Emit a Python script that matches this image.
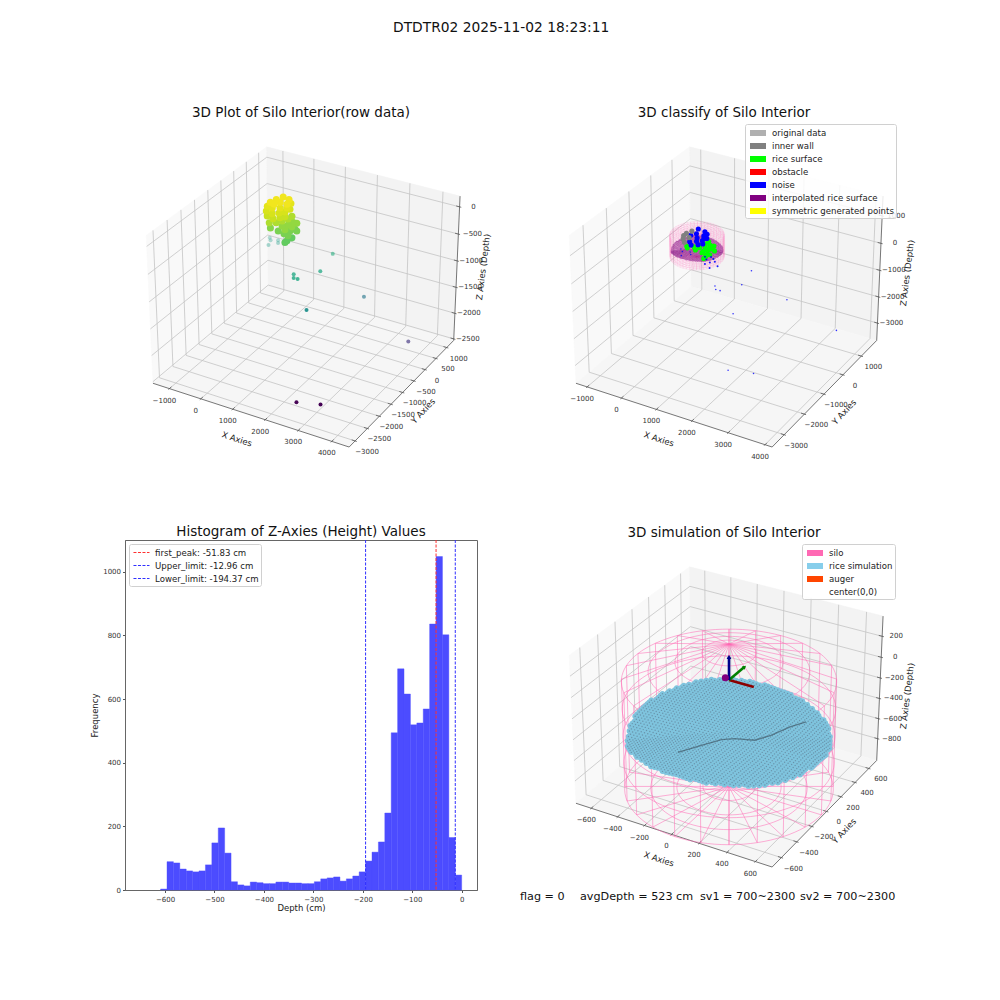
import numpy as np, pandas as pd, altair as alt
alt.data_transformers.disable_max_rows()
FONT = "DejaVu Sans"
SUP = "DTDTR02 2025-11-02 18:23:11"
TITLES = ["3D Plot of Silo Interior(row data)", "3D classify of Silo Interior",
          "Histogram of Z-Axies (Height) Values", "3D simulation of Silo Interior"]

# ---------- measured point cloud (x, y, z in cm) ----------
blob_x = [30,-51,-110,247,120,333,35,-145,24,208,368,327,-106,111,246,356,393,-23,195,330,417,64,225,309,393,406,299,409,445,563,554,473,472,533,558,413,632,524,531,560,4,196]
blob_y = [19,-155,-319,-25,-219,-219,-349,-395,-414,-334,-264,-50,-485,-529,-424,-330,-175,-555,-599,-494,-410,-587,-517,-387,-258,-113,-373,-279,-124,-119,-308,-483,-280,-160,-474,-444,-210,-470,-559,-315,-469,-400]
blob_z = [-50,-50,-50,-50,-50,-50,-50,-100,-100,-100,-100,-100,-150,-150,-150,-150,-150,-200,-200,-200,-200,-300,-300,-300,-300,-300,-400,-400,-400,-400,-400,-400,-500,-500,-500,-500,-500,-600,-600,-600,-450,-500]
blob_c = "bggbbbbggbbbgbbbbgbbblllllllllllllllllllll"
BLOB_LIFT = 250
far_x = [-762,-660,-574,-477,-397,1462,1561,1018,1124,1243,2567,1912,3960,2326,2931]
far_y = [457,363,169,443,339,189,-463,-838,-977,-972,25,-1487,20,-2433,-2262]
far_z = [-1100,-1100,-1100,-1100,-1100,-940,-1000,-1000,-1000,-1000,-1500,-1250,-2100,-2500,-2500]
scat_x = [436,584,570,522,851,720,471,673,333]
scat_y = [-274,-355,-159,-486,-431,-595,-105,-262,-171]
scat_z = [-600]*9

# rice surface heights: rows = radius bands, columns = sectors of 30 degrees
rice_bands = [0, 250, 450, 661]
rice_z = [
 [-530,-530,-530,-530,-530,-530,-530,-530,-530,-530,-530,-530],
 [-535,-550,-545,-530,-515,-520,-530,-550,-530,-515,-525,-540],
 [-545,-580,-560,-535,-500,-510,-535,-580,-530,-500,-520,-550],
 [-550,-600,-570,-540,-490,-505,-540,-600,-530,-490,-520,-560],
]
ridge_x = [-131,-46,28,94,214,274,329,388]
ridge_y = [-416,-269,-144,-92,-46,60,215,322]
ridge_z = [-495]*8

# silo
SILO_R = 680
SILO4 = dict(top=-19, apex=310, bot=-1070)
SILO2 = dict(top=0, apex=0, bot=-820)

# histogram
hist_width = 12.9575
hist_counts = [3,89,85,66,60,57,60,79,148,195,116,26,16,13,25,23,20,20,25,25,22,22,20,20,26,35,38,41,28,35,44,57,91,119,151,242,494,695,616,519,525,569,836,1048,802,165,47]
lines_name = ["first_peak: -51.83 cm", "Upper_limit: -12.96 cm", "Lower_limit: -194.37 cm"]
lines_val = [-51.83, -12.96, -194.37]
lines_col = ["#ff3030", "#3030ff", "#3030ff"]

leg2_names = ["original data","inner wall","rice surface","obstacle","noise","interpolated rice surface","symmetric generated points"]
leg2_cols = ["#b0b0b0","#808080","#00ff00","#ff0000","#0000ff","#800080","#ffff00"]
leg4_names = ["silo","rice simulation","auger","center(0,0)"]
leg4_cols = ["#ff69b4","#87ceeb","#ff4500","#ffffff"]

PANES = {
 1: dict(x=(-1530,4510), y=(-3240,1330), z=(-2530,195),
         xt=[-1000,0,1000,2000,3000,4000], yt=list(range(-3000,1001,500)), zt=list(range(-2500,1,500))),
 2: dict(x=(-1330,4190), y=(-3580,1860), z=(-3670,1710),
         xt=[-1000,0,1000,2000,3000,4000], yt=[-3000,-2000,-1000,0,1000], zt=[-3000,-2000,-1000,0,1000]),
 4: dict(x=(-717,717), y=(-717,717), z=(-1020,390),
         xt=list(range(-600,601,200)), yt=list(range(-600,601,200)), zt=list(range(-800,201,200))),
}

S = 1967.0
CX, CY = 181.0, 170.0
W, H = 352, 350
XS = alt.Scale(domain=[-CX/S, (W-CX)/S], nice=False, zero=False)
YS = alt.Scale(domain=[-(H-CY)/S, CY/S], nice=False, zero=False)
X = alt.X("px:Q", scale=XS, axis=None)
Y = alt.Y("py:Q", scale=YS, axis=None)

el, az = np.radians(30), np.radians(-60)
N = np.array([np.cos(az)*np.cos(el), np.sin(az)*np.cos(el), np.sin(el)])
U = np.cross([0,0,1], N); U = U/np.linalg.norm(U)
V = np.cross(N, U)
BOX = np.array([4.,4.,3.]); BOX = BOX*1.8294640721620434/np.linalg.norm(BOX)

def projector(p):
    lo = np.array([p["x"][0], p["y"][0], p["z"][0]], float)
    hi = np.array([p["x"][1], p["y"][1], p["z"][1]], float)
    def f(x, y, z):
        shape = np.broadcast(x,y,z).shape
        P = np.stack([np.broadcast_to(np.asarray(x,float), shape),
                      np.broadcast_to(np.asarray(y,float), shape),
                      np.broadcast_to(np.asarray(z,float), shape)], -1)
        b = (P-lo)/(hi-lo)*BOX - BOX/2
        d = 10 - b@N
        return b@U/d, b@V/d, d
    return f

def lines_df(f, segs):
    rows = []
    for g, (x,y,z) in enumerate(segs):
        a,b,_ = f(x,y,z)
        rows.append(pd.DataFrame({"px":np.atleast_1d(a),"py":np.atleast_1d(b),"g":g,"i":np.arange(np.size(a))}))
    return pd.concat(rows, ignore_index=True)

def line_layer(df, color, width, opacity=1.0, **kw):
    return alt.Chart(df).mark_line(color=color, strokeWidth=width, opacity=opacity, **kw).encode(
        x=X, y=Y, detail="g:N", order=alt.Order("i:Q"))

def label(txt):
    return str(txt).replace("-", "\u2212")

def text_at(txt, x, y, size=8.5, angle=0):
    return alt.Chart(pd.DataFrame({"t":[txt]})).mark_text(font=FONT, fontSize=size, angle=angle, color="#222").encode(
        x=alt.value(x), y=alt.value(y), text="t:N")

def frame(p, labels):
    f = projector(p)
    (x0,x1),(y0,y1),(z0,z1) = p["x"],p["y"],p["z"]
    out = []
    for seg, col in (((
        [x0,x0,x0,x0],[y0,y1,y1,y0],[z0,z0,z1,z1]), "#f9f9f9"),
        (([x0,x1,x1,x0],[y1,y1,y1,y1],[z0,z0,z1,z1]), "#f3f3f3"),
        (([x0,x1,x1,x0],[y0,y0,y1,y1],[z0,z0,z0,z0]), "#f6f6f6")):
        df = lines_df(f,[tuple(np.array(s,float) for s in seg)])
        out.append(alt.Chart(df).mark_line(fill=col, stroke=col, strokeWidth=0.5, interpolate="linear-closed").encode(
            x=X, y=Y, order=alt.Order("i:Q")))
    grid = []
    for t in p["xt"]:
        grid.append((np.array([t,t,t],float),np.array([y0,y1,y1],float),np.array([z0,z0,z1],float)))
    for t in p["yt"]:
        grid.append((np.array([x1,x0,x0],float),np.array([t,t,t],float),np.array([z0,z0,z1],float)))
    for t in p["zt"]:
        grid.append((np.array([x0,x0,x1],float),np.array([y0,y1,y1],float),np.array([t,t,t],float)))
    out.append(line_layer(lines_df(f,grid), "#c4c4c4", 0.8))
    edges = [(np.array([x0,x1],float),np.array([y0,y0],float),np.array([z0,z0],float)),
             (np.array([x1,x1],float),np.array([y0,y1],float),np.array([z0,z0],float)),
             (np.array([x1,x1],float),np.array([y1,y1],float),np.array([z0,z1],float))]
    ticks = []
    dy_, dx_ = (y1-y0)/12, (x1-x0)/12
    for t in p["xt"]:
        ticks.append((np.array([t,t],float),np.array([y0+.2*dy_,y0-.1*dy_]),np.array([z0,z0],float)))
    for t in p["yt"]:
        ticks.append((np.array([x1-.2*dx_,x1+.1*dx_]),np.array([t,t],float),np.array([z0,z0],float)))
    for t in p["zt"]:
        ticks.append((np.array([x1-.2*dx_,x1+.1*dx_]),np.array([y1,y1],float),np.array([t,t],float)))
    out.append(line_layer(lines_df(f,edges+ticks), "#555555", 0.8))
    def tlabels(xs,ys,zs,txt,dx,dy):
        a,b,_ = f(np.array(xs,float),np.array(ys,float),np.array(zs,float))
        d = pd.DataFrame({"px":a,"py":b,"t":[label(v) for v in txt]})
        return alt.Chart(d).mark_text(font=FONT,fontSize=7,color="#333",dx=dx,dy=dy).encode(x=X,y=Y,text="t:N")
    n=len(p["xt"]); out.append(tlabels(p["xt"],[y0]*n,[z0]*n,p["xt"],-5,12))
    n=len(p["yt"]); out.append(tlabels([x1]*n,p["yt"],[z0]*n,p["yt"],12,11))
    n=len(p["zt"]); out.append(tlabels([x1]*n,[y1]*n,p["zt"],p["zt"],14,0))
    out.append(text_at("X Axies",labels[0][0],labels[0][1],8.5,18))
    out.append(text_at("Y Axies",labels[1][0],labels[1][1],8.5,313))
    out.append(text_at("Z Axies (Depth)",labels[2][0],labels[2][1],8.5,277))
    return out, f

def silo(f, geo, n_sides, n_wall, n_caps):
    top, apex, bot = geo["top"], geo["apex"], geo["bot"]
    th = np.linspace(0,2*np.pi,97)
    segs = []
    for a in np.linspace(0,2*np.pi,n_sides,endpoint=False):
        c,s = np.cos(a)*SILO_R, np.sin(a)*SILO_R
        segs.append((np.array([c,c]),np.array([s,s]),np.array([bot,top],float)))
        segs.append((np.array([0,c]),np.array([0,s]),np.array([apex,top],float)))
        segs.append((np.array([0,c]),np.array([0,s]),np.array([bot,bot],float)))
    for z in np.linspace(bot,top,n_wall):
        segs.append((SILO_R*np.cos(th),SILO_R*np.sin(th),np.full_like(th,z)))
    for k in np.linspace(0,1,n_caps+2)[1:-1]:
        segs.append((k*SILO_R*np.cos(th),k*SILO_R*np.sin(th),np.full_like(th,bot)))
        segs.append((k*SILO_R*np.cos(th),k*SILO_R*np.sin(th),np.full_like(th,apex+(top-apex)*k)))
    return lines_df(f,segs)

def rice_points():
    g = np.arange(-675,676,25.0)
    xx,yy = np.meshgrid(g,g)
    rr = np.hypot(xx,yy)
    m = rr<=660
    xx,yy,rr = xx[m],yy[m],rr[m]
    ang = np.degrees(np.arctan2(yy,xx))%360
    secs = np.arange(0,361,30.0)
    rows = np.array(rice_z,float)
    rows = np.hstack([rows,rows[:,:1]])
    by_band = np.stack([np.interp(ang,secs,r) for r in rows],0)
    zz = np.array([np.interp(rr[i],rice_bands,by_band[:,i]) for i in range(len(rr))])
    return xx,yy,zz

def legend_layer(names, cols, lx, ly):
    d = pd.DataFrame({"n":names})
    return alt.Chart(d).mark_point(filled=True, size=0).encode(
        x=alt.value(0), y=alt.value(0),
        color=alt.Color("n:N", scale=alt.Scale(domain=names, range=cols),
            legend=alt.Legend(title=None, orient="none", legendX=lx, legendY=ly, symbolType="M-0.67,-0.5H2V0.5H-0.67Z",
                symbolSize=144, symbolOpacity=1, labelOffset=11, labelFont=FONT, labelFontSize=8.6, labelColor="#222",
                fillColor="rgba(255,255,255,0.85)", strokeColor="#d0d0d0", cornerRadius=2, padding=2, rowPadding=1,
                labelLimit=200)))

title = lambda t: alt.Title(t, font=FONT, fontSize=13.5, fontWeight="normal", offset=1, color="#111")
NOFRAME = alt.ViewBackground(stroke="transparent")

# panel 1
lay1, f1 = frame(PANES[1], [(112,319),(298,291),(358,147)])
a,b,_ = f1(np.array(blob_x,float),np.array(blob_y,float),np.array(blob_z,float))
d1b = pd.DataFrame({"px":a,"py":b,"z":blob_z}).sort_values("z")
d1b["o"]=np.arange(len(d1b))
lay1.append(alt.Chart(d1b).mark_circle(size=50,opacity=1).encode(x=X,y=Y,
    color=alt.Color("z:Q",scale=alt.Scale(scheme="viridis",domain=[-2500,0]),legend=None),order=alt.Order("o:Q")))
a,b,d = f1(np.array(far_x,float),np.array(far_y,float),np.array(far_z,float))
al = 1-(d-d.min())/(d.max()-d.min())*0.7
df1 = pd.DataFrame({"px":a,"py":b,"z":far_z,"a":al})
lay1.append(alt.Chart(df1).mark_circle(size=16).encode(x=X,y=Y,
    color=alt.Color("z:Q",scale=alt.Scale(scheme="viridis",domain=[-2500,0]),legend=None),
    opacity=alt.Opacity("a:Q",scale=None)))
p1 = alt.layer(*lay1).properties(width=W,height=H,title=title(TITLES[0]),view=NOFRAME)

# panel 2
lay2, f2 = frame(PANES[2], [(111,319),(296,292),(359,153)])
lay2.append(line_layer(silo(f2,SILO2,48,12,7),"#ff69b4",0.4,0.35))
rx,ry,rz = rice_points()
a,b,_ = f2(rx,ry,rz)
lay2.append(alt.Chart(pd.DataFrame({"px":a,"py":b})).mark_circle(size=1.0,color="#800080",opacity=0.45).encode(x=X,y=Y))
bc = np.array(list(blob_c))
colmap = {"g":"#808080","b":"#0000ff","l":"#00ff00"}
a,b,_ = f2(np.array(blob_x,float),np.array(blob_y,float),np.array(blob_z,float)+BLOB_LIFT)
d2b = pd.DataFrame({"px":a,"py":b,"c":[colmap[c] for c in bc],"r":[{"l":0,"b":1,"g":2}[c] for c in bc]}).sort_values("r")
d2b["o"]=np.arange(len(d2b))
lay2.append(alt.Chart(d2b).mark_circle(size=26,opacity=1).encode(
    x=X,y=Y,color=alt.Color("c:N",scale=None),order=alt.Order("o:Q")))
a,b,_ = f2(np.array(scat_x,float),np.array(scat_y,float),np.array(scat_z,float))
lay2.append(alt.Chart(pd.DataFrame({"px":a,"py":b})).mark_circle(size=4,color="#0000ff",opacity=.9).encode(x=X,y=Y))
a,b,_ = f2(np.array(far_x,float),np.array(far_y,float),np.array(far_z,float))
lay2.append(alt.Chart(pd.DataFrame({"px":a,"py":b})).mark_circle(size=2.5,color="#0000ff",opacity=.8).encode(x=X,y=Y))
lay2.append(legend_layer(leg2_names,leg2_cols,197,4))
p2 = alt.layer(*lay2).properties(width=W,height=H,title=title(TITLES[1]),view=NOFRAME)

# panel 3: histogram
n = len(hist_counts)
edges = -hist_width*np.arange(n,-1,-1)
dh = pd.DataFrame({"x0":edges[:-1],"x1":edges[1:],"c":hist_counts,"c0":0})
hx = alt.X("x0:Q",scale=alt.Scale(domain=[-681,31],nice=False,zero=False),
    axis=alt.Axis(values=[-600,-500,-400,-300,-200,-100,0],format="d",grid=False,title="Depth (cm)",titleFont=FONT,titleFontSize=8.5,titleFontWeight="normal",
        labelFont=FONT,labelFontSize=7,tickSize=2.5,domainColor="#666",tickColor="#555",labelColor="#333",titleColor="#222",titlePadding=1,labelPadding=3))
bars = alt.Chart(dh).mark_rect(color="#4c4cff",stroke="#4c4cff",strokeWidth=0.4,opacity=1).encode(x=hx,x2="x1:Q",
    y=alt.Y("c:Q",scale=alt.Scale(domain=[0,1100],nice=False),
    axis=alt.Axis(values=[0,200,400,600,800,1000],format="d",grid=False,title="Frequency",titleFont=FONT,titleFontSize=8.5,titleFontWeight="normal",
        labelFont=FONT,labelFontSize=7,tickSize=2.5,domainColor="#666",tickColor="#555",labelColor="#333",titleColor="#222",titlePadding=3,labelPadding=2)),
    y2="c0:Q")
dl = pd.DataFrame({"x0":lines_val,"n":lines_name})
rules = alt.Chart(dl).mark_rule(strokeDash=[3,1.5],strokeWidth=1).encode(x=alt.X("x0:Q"),
    color=alt.Color("n:N",scale=alt.Scale(domain=lines_name,range=lines_col),
        legend=alt.Legend(title=None,orient="none",legendX=4,legendY=4,symbolType="M-0.67,0H2",symbolSize=144,symbolDash=[3,1.5],symbolStrokeWidth=1,
            symbolStrokeColor=None if False else alt.Undefined,
            labelOffset=11,labelFont=FONT,labelFontSize=8.6,labelColor="#222",fillColor="white",strokeColor="#d0d0d0",cornerRadius=2,padding=2,rowPadding=1,labelLimit=200)))
p3 = alt.layer(bars,rules).properties(width=W,height=H,title=title(TITLES[2]),view=alt.ViewBackground(stroke="#666"))

# panel 4
lay4, f4 = frame(PANES[4], [(111,319),(296,291),(359,156)])
lay4.append(line_layer(silo(f4,SILO4,24,5,3),"#ff69b4",0.8,0.65))
a,b,_ = f4(rx,ry,rz)
drice = pd.DataFrame({"px":a,"py":b})
lay4.append(alt.Chart(drice).mark_circle(size=30,color="#7fc4de",opacity=1).encode(x=X,y=Y))
lay4.append(alt.Chart(drice).mark_circle(size=2,color="#5f7f95",opacity=.7).encode(x=X,y=Y))
lay4.append(line_layer(lines_df(f4,[(np.array(ridge_x,float),np.array(ridge_y,float),np.array(ridge_z,float))]),"#33424f",1.4,.55))
O = -28.0
arrow = [("#8b0000",(0,180),(0,0),(O,O)),("#008000",(0,0),(0,200),(O,O)),("#00008b",(0,0),(0,0),(O,190))]
for col,ax_,ay_,az2 in arrow:
    lay4.append(line_layer(lines_df(f4,[(np.array(ax_,float),np.array(ay_,float),np.array(az2,float))]),col,2.6))
a,b,_ = f4(np.array([0.]),np.array([0.]),np.array([190.]))
lay4.append(alt.Chart(pd.DataFrame({"px":a,"py":b})).mark_point(shape="triangle-up",filled=True,size=22,color="#00008b",opacity=1).encode(x=X,y=Y))
a,b,_ = f4(np.array([0.]),np.array([200.]),np.array([O]))
lay4.append(alt.Chart(pd.DataFrame({"px":a,"py":b})).mark_point(shape="triangle-up",filled=True,size=18,color="#008000",opacity=1,angle=50).encode(x=X,y=Y))
a,b,_ = f4(np.array([-35.]),np.array([14.]),np.array([O]))
lay4.append(alt.Chart(pd.DataFrame({"px":a,"py":b})).mark_circle(size=50,color="#800080",opacity=1).encode(x=X,y=Y))
lay4.append(legend_layer(leg4_names,leg4_cols,254,4))
info = [("flag = 0",-28),("avgDepth = 523 cm",32),("sv1 = 700~2300",152),("sv2 = 700~2300",252)]
for t,x in info:
    lay4.append(alt.Chart(pd.DataFrame({"t":[t]})).mark_text(font=FONT,fontSize=11.2,align="left",color="#111").encode(
        x=alt.value(x),y=alt.value(357),text="t:N"))
p4 = alt.layer(*lay4).properties(width=W,height=H,title=title(TITLES[3]),view=NOFRAME)

chart = alt.concat(p1,p2,p3,p4,columns=2,spacing=alt.RowColnumber(row=70,column=71),bounds="flush"
    ).resolve_scale(color="independent",x="independent",y="independent"
    ).properties(title=alt.Title(SUP,font=FONT,fontSize=13.8,fontWeight="normal",anchor="middle",offset=70,dx=-2,color="#111"),
                 padding={"left":82,"top":13,"right":5,"bottom":5}
    ).configure_view(stroke=None).configure(font=FONT)
chart.save("out.html", embed_options={"renderer":"svg","actions":False})
